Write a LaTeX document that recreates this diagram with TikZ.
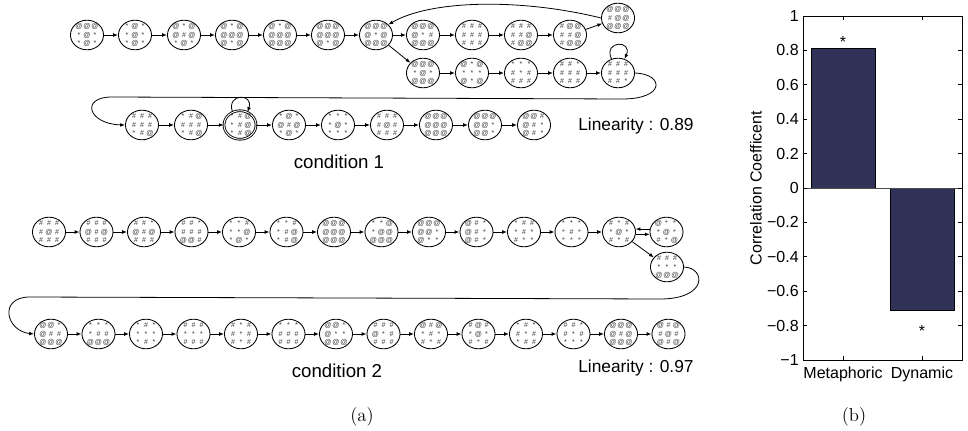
\documentclass[tikz,border=0pt]{standalone}
\usepackage{fontspec}
\newfontfamily\arial{Liberation Sans}
\usetikzlibrary{shapes.geometric,arrows.meta}
\definecolor{barc}{RGB}{48,50,88}
\def\symA{@}\def\symH{\#}\def\symS{*}
\newcommand\sy[1]{\makebox[6pt]{\csname sym#1\endcsname}}
\def\rwx#1#2#3{\hbox{\vrule height 3.9pt depth 0.7pt width 0pt\sy{#1}\sy{#2}\sy{#3}}}
\newcommand\rw[1]{\expandafter\rwx#1}
\newcommand\gr[3]{\setbox0\vbox{\baselineskip=6.3pt\lineskiplimit=-20pt\rw{#1}\rw{#2}\rw{#3}}%
  \dimen0=\ht0 \advance\dimen0 by \dp0 \dimen0=0.5\dimen0 \advance\dimen0 by -\ht0
  \makebox[0pt]{\raisebox{\dimen0}[0pt][0pt]{\box0}}}
\tikzset{
  st/.style={ellipse, draw, line width=0.65pt, minimum width=24.8pt, minimum height=22.2pt,
    inner sep=0pt, font=\arial\fontsize{5.3}{6}\selectfont, text=black!78},
  dst/.style={st, double, double distance=0.7pt, minimum width=24pt, minimum height=21.4pt},
  arr/.style={-{Latex[length=3.6pt,width=2.8pt]}, line width=0.6pt},
  lin/.style={font=\arial\fontsize{13}{15}\selectfont, anchor=west, inner sep=0pt},
  cond/.style={font=\arial\fontsize{14}{16}\selectfont, inner sep=0pt},
  capt/.style={font=\fontsize{14}{16}\selectfont, inner sep=0pt},
  plt/.style={font=\arial\fontsize{12}{14}\selectfont, inner sep=0pt},
  barst/.style={fill=barc, draw=black, line width=0.4pt}
}
\begin{document}
\begin{tikzpicture}[x=0.75pt,y=-0.75pt]
\useasboundingbox (0,0) rectangle (968,431);
% ---------------- condition 1 ----------------
\node[st] (a1) at (87,35) {\gr{AAA}{SAS}{SAS}};
\node[st] (a2) at (135,35) {\gr{SAS}{SAS}{SAS}};
\node[st] (a3) at (184,35) {\gr{ASA}{AHA}{SAS}};
\node[st] (a4) at (232,35) {\gr{ASA}{AAA}{ASA}};
\node[st] (a5) at (280,35) {\gr{ASA}{AAA}{AAA}};
\node[st] (a6) at (328,35) {\gr{AAA}{AAA}{ASA}};
\node[st] (a7) at (376,35) {\gr{AAA}{ASA}{AAA}};
\node[st] (t1) at (423,35) {\gr{AAA}{ASH}{AAA}};
\node[st] (t2) at (472,35) {\gr{HHH}{HHH}{HHH}};
\node[st] (t3) at (521,35) {\gr{HHH}{HHA}{HAA}};
\node[st] (t4) at (570,35) {\gr{HAA}{HHA}{HAA}};
\node[st] (tr) at (618,18) {\gr{AAA}{HAA}{AAA}};
\node[st] (l1) at (423,73) {\gr{AAA}{SAS}{AAA}};
\node[st] (l2) at (472,73) {\gr{ASA}{SSS}{ASA}};
\node[st] (l3) at (521,73) {\gr{SSS}{HSH}{HHH}};
\node[st] (l4) at (570,73) {\gr{HHS}{HHH}{HHH}};
\node[st] (l5) at (618,73) {\gr{HHH}{HHH}{HHS}};
\node[st] (r1) at (142,125) {\gr{HHH}{HHH}{SHA}};
\node[st] (r2) at (191,125) {\gr{SHA}{HHH}{SHA}};
\node[dst] (r3) at (240,125) {\gr{SHA}{SHA}{SHA}};
\node[st] (r4) at (289,125) {\gr{SAS}{AHA}{SAS}};
\node[st] (r5) at (338,125) {\gr{SSS}{SAS}{SSS}};
\node[st] (r6) at (387,125) {\gr{HHH}{HAH}{HHH}};
\node[st] (r7) at (436,125) {\gr{AAA}{AAA}{AAA}};
\node[st] (r8) at (485,125) {\gr{AAA}{AAS}{AAS}};
\node[st] (r9) at (534,125) {\gr{AAH}{AHS}{AHS}};
\foreach \p/\q in {a1/a2,a2/a3,a3/a4,a4/a5,a5/a6,a6/a7,a7/t1,t1/t2,t2/t3,t3/t4,t4/tr,a7/l1,
  l1/l2,l2/l3,l3/l4,l4/l5,r1/r2,r2/r3,r3/r4,r4/r5,r5/r6,r6/r7,r7/r8,r8/r9}
  \draw[arr] (\p) -- (\q);
\draw[arr] (tr.west) .. controls (520,-2) and (430,0) .. (a7.40);
\draw[arr] (l5.115) .. controls (603,40) and (633,40) .. (l5.65);
\draw[arr] (r3.120) .. controls (226,93) and (254,93) .. (r3.60);
\draw[arr] (l5.east) .. controls (664,74) and (666,99) .. (622,99) -- (112,97)
  .. controls (80,97) and (88,124) .. (r1.west);
\node[lin] (lin1) at (578,126) {Linearity : 0.89};
\node[cond] (c1) at (339,162) {condition 1};
% ---------------- condition 2 ----------------
\foreach \n/\x/\ra/\rb/\rc in {1/49/HHH/HAH/HHH, 2/96.5/HHH/AHA/HHH, 3/144/HHS/AHA/HHH,
  4/191.5/HHS/HHH/AAH, 5/239/SSH/SSA/SAS, 6/286.5/SSH/SHA/SHA, 7/334/AAA/AAA/AAA,
  8/381.5/SSA/SAA/AAA, 9/429/AAA/AAS/ASS, 10/476.5/AHS/AHS/AHS, 11/524/SHH/SHS/HSS,
  12/571.5/SSS/SHS/SSS, 13/619/HSH/SAS/HSH, 14/666.5/ASS/SAS/HSA}
  \node[st] (A\n) at (\x,232) {\gr{\ra}{\rb}{\rc}};
\node[st] (ln) at (667,267) {\gr{HHH}{SSS}{AAA}};
\foreach \n/\x/\ra/\rb/\rc in {1/51/AAS/AHH/AAA, 2/98.5/SSS/SHH/AAA, 3/146/SHS/SSS/SHS,
  4/193.5/HHH/SSS/HHH, 5/241/HSH/HSH/HSH, 6/288.5/SSS/HHH/HHH, 7/336/AAS/ASS/AAA,
  8/383.5/HHH/ASH/HHH, 9/431/AHA/SHS/HSH, 10/478.5/HAH/SAS/HSH, 11/526/SHS/HSH/SHH,
  12/573.5/HHS/HSH/SSS, 13/621/AAA/AHA/AAA, 14/668.5/AHA/HAH/AHA}
  \node[st] (B\n) at (\x,334) {\gr{\ra}{\rb}{\rc}};
\foreach \i [evaluate=\i as \j using int(\i+1)] in {1,...,12}
  \draw[arr] (A\i) -- (A\j);
\foreach \i [evaluate=\i as \j using int(\i+1)] in {1,...,13}
  \draw[arr] (B\i) -- (B\j);
\draw[arr] (A14.170) -- (A13.10);
\draw[arr] (A13.-8) -- (A14.188);
\draw[arr] (A13) -- (ln);
\draw[arr] (ln.east) .. controls (706,268) and (708,299) .. (660,299) -- (30,297)
  .. controls (-2,297) and (6,331) .. (B1.west);
\node[lin] (lin2) at (578,368) {Linearity : 0.97};
\node[cond] (c2) at (337,371) {condition 2};
\node[capt] (capa) at (362,417) {(a)};
% ---------------- bar chart ----------------
\draw[barst] (811,188) rectangle (875,{188-172*0.81});
\draw[barst] (890,188) rectangle (954,{188+172*0.71});
\draw[line width=0.5pt, black!70] (803,188) -- (962,188);
\draw[line width=0.6pt] (803,16) rectangle (962,360);
\foreach \i/\t in {5/1,4/0.8,3/0.6,2/0.4,1/0.2,0/0,-1/−0.2,-2/−0.4,-3/−0.6,-4/−0.8,-5/−1}{
  \draw[line width=0.5pt] (803,{188-34.4*\i}) -- ++(4,0);
  \draw[line width=0.5pt] (962,{188-34.4*\i}) -- ++(-4,0);
  \node[plt, anchor=east] (tk\i) at (799,{188-34.4*\i}) {\t};
}
\foreach \x in {843,922}{
  \draw[line width=0.5pt] (\x,16) -- ++(0,4);
  \draw[line width=0.5pt] (\x,360) -- ++(0,-4);
}
\node[plt] (s1) at (843,42) {*};
\node[plt] (s2) at (922,331) {*};
\node[plt, rotate=90] (ylab) at (756,188) {Correlation Coefficent};
\node[plt] (xl1) at (843,374) {Metaphoric};
\node[plt] (xl2) at (922,374) {Dynamic};
\node[capt] (capb) at (854,417) {(b)};
\end{tikzpicture}
\end{document}
